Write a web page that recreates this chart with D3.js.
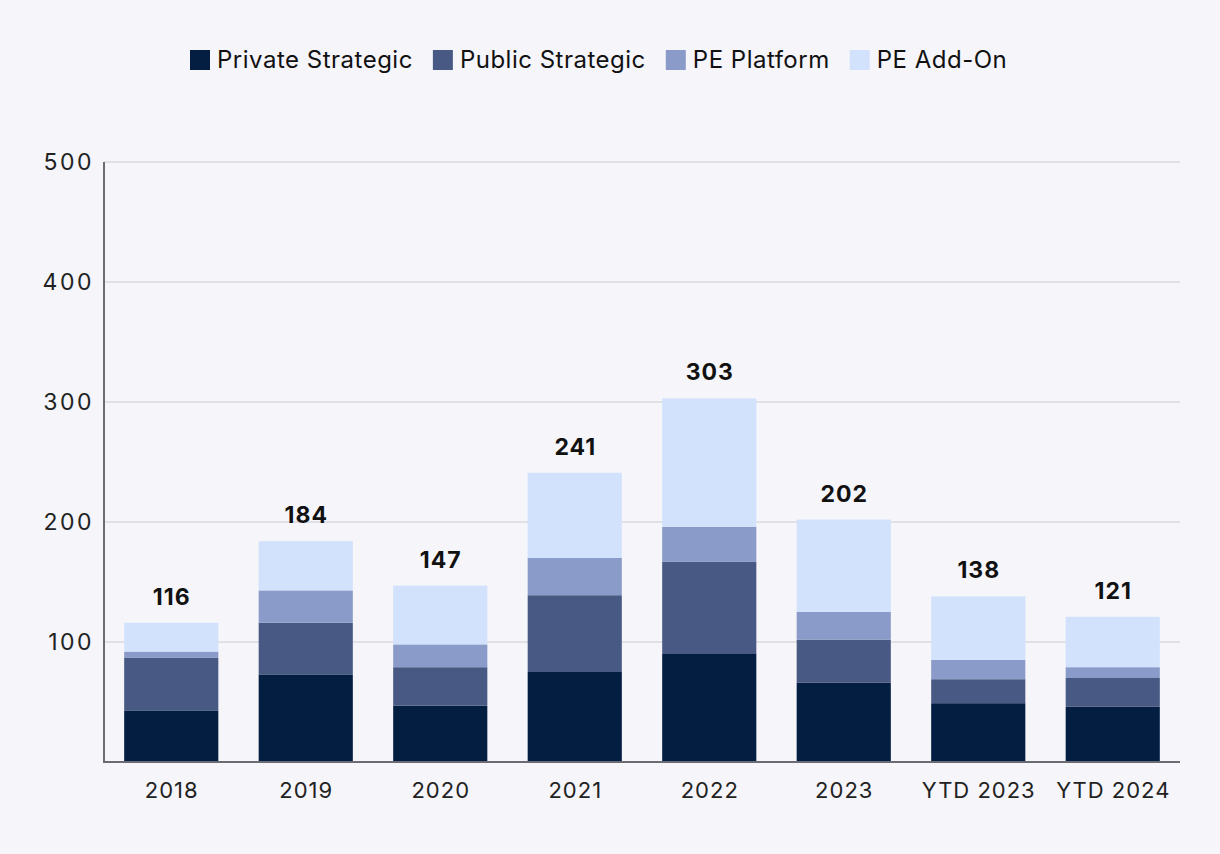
<!DOCTYPE html>
<html><head><meta charset="utf-8">
<script src="https://cdn.jsdelivr.net/npm/d3@7"></script>
<style>
html,body{margin:0;padding:0;background:#F5F5FA;}
svg{display:block;font-family:Inter, "Noto Sans", sans-serif;}
</style></head>
<body><svg id="c" width="1220" height="854"></svg>
<script>
const categories = ["2018","2019","2020","2021","2022","2023","YTD 2023","YTD 2024"];
const seriesNames = ["Private Strategic","Public Strategic","PE Platform","PE Add-On"];
const privateStrategic = [43,73,47,75,90,66,49,46];
const publicStrategic  = [44,43,32,64,77,36,20,24];
const pePlatform       = [5,27,19,31,29,23,16,9];
const peAddOn          = [24,41,49,71,107,77,53,42];
const totals           = [116,184,147,241,303,202,138,121];
const yTicks = [100,200,300,400,500];
const colors = ["#041E42","#485A84","#8A9BC9","#D2E2FC"];

const svg = d3.select("#c");
svg.append("rect").attr("width",1220).attr("height",854).attr("fill","#F5F5FA");

const L=104, R=1180, T=162, B=762;
const x = d3.scaleBand().domain(categories).range([L,R]).paddingInner(0.3).paddingOuter(0.15);
const y = d3.scaleLinear().domain([0,500]).range([B,T]);

// gridlines
svg.append("g").selectAll("line").data(yTicks).join("line")
  .attr("x1",L).attr("x2",R).attr("y1",d=>y(d)).attr("y2",d=>y(d))
  .attr("stroke","#E0E0E7").attr("stroke-width",2);

const rows = categories.map((c,i)=>({cat:c, "Private Strategic":privateStrategic[i], "Public Strategic":publicStrategic[i], "PE Platform":pePlatform[i], "PE Add-On":peAddOn[i], total: totals[i]}));
const stack = d3.stack().keys(seriesNames)(rows);

svg.append("g").selectAll("g").data(stack).join("g")
  .attr("fill",(d,i)=>colors[i])
  .selectAll("rect").data(d=>d).join("rect")
  .attr("x",d=>x(d.data.cat)).attr("width",x.bandwidth())
  .attr("y",d=>y(d[1])).attr("height",d=>y(d[0])-y(d[1]));

// totals
svg.append("g").selectAll("text").data(rows).join("text")
  .attr("x",d=>x(d.cat)+x.bandwidth()/2+0.5).attr("y",d=>y(d.total)-18)
  .attr("text-anchor","middle").attr("font-size",23).attr("font-weight",700).attr("fill","#111")
  .attr("letter-spacing",1)
  .text(d=>d.total);

// axes
const yAxis = svg.append("g").attr("transform",`translate(${L},0)`)
  .call(d3.axisLeft(y).tickValues(yTicks).tickSize(0).tickPadding(10));
yAxis.select(".domain").remove();
yAxis.selectAll("text").attr("font-size",23).attr("fill","#222").attr("font-family","Inter, sans-serif").attr("letter-spacing",2.5);

const xAxis = svg.append("g").attr("transform",`translate(0,${B})`)
  .call(d3.axisBottom(x).tickSize(0).tickPadding(20));
xAxis.select(".domain").remove();
xAxis.selectAll("text").attr("font-size",22).attr("fill","#222").attr("font-family","Inter, sans-serif").attr("letter-spacing",1).attr("dx",0.5);

svg.append("line").attr("x1",L).attr("x2",L).attr("y1",T).attr("y2",B+1).attr("stroke","#6B6B73").attr("stroke-width",2);
svg.append("line").attr("x1",L-1).attr("x2",R).attr("y1",B).attr("y2",B).attr("stroke","#6B6B73").attr("stroke-width",2);

// legend
const lg = svg.append("g");
let lx = 190;
seriesNames.forEach((n,i)=>{
  const g = lg.append("g").attr("transform",`translate(${lx},0)`);
  g.append("rect").attr("x",0).attr("y",50).attr("width",20).attr("height",20).attr("fill",colors[i]);
  const t = g.append("text").attr("x",27).attr("y",68).attr("font-size",24).attr("letter-spacing",0.5).attr("fill","#111").text(n);
  lx += 27 + t.node().getComputedTextLength() + 20;
});
</script>
</body></html>
